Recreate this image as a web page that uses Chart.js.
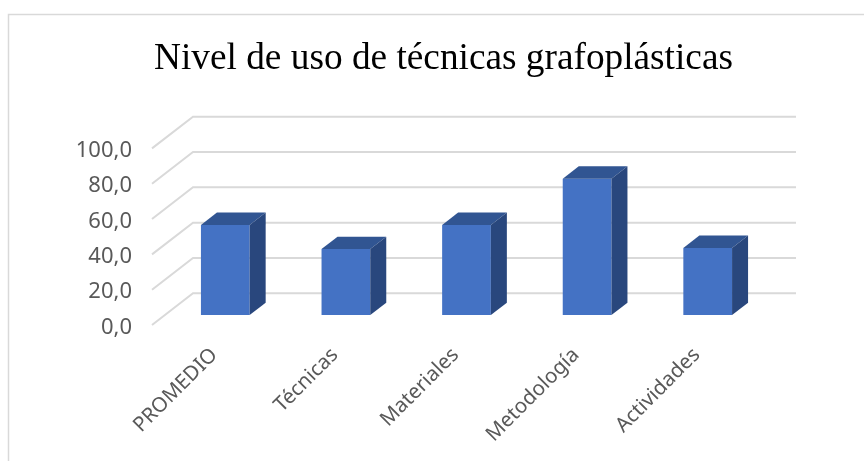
<!DOCTYPE html>
<html>
<head>
<meta charset="utf-8">
<title>Nivel de uso de técnicas grafoplásticas</title>
<script src="https://cdn.jsdelivr.net/npm/chart.js@4/dist/chart.umd.min.js"></script>
<style>
  html, body { margin: 0; padding: 0; background: #fff; }
  canvas { display: block; }
</style>
</head>
<body>
<canvas id="usageChart" width="864" height="461"></canvas>
<script>
const chartTitle = 'Nivel de uso de técnicas grafoplásticas';
const categories = ['PROMEDIO', 'Técnicas', 'Materiales', 'Metodología', 'Actividades'];
const usageValues = [51, 37.4, 51, 77.2, 38];

// Floor depth of the fake 3D box, and how far into it the bars stand
const floorDepth = { x: 41, y: 31.7 };
const barShift = { x: 13, y: 10 };
const barDepth = { x: 16, y: 12.3 };

const frontColor = '#4472C4';
const topColor = '#315592';
const sideColor = '#29477D';
const gridColor = '#D9D9D9';
const labelColor = '#595959';

function fillPolygon(ctx, color, points) {
    ctx.fillStyle = color;
    ctx.beginPath();
    points.forEach(([x, y], i) => (i ? ctx.lineTo(x, y) : ctx.moveTo(x, y)));
    ctx.closePath();
    ctx.fill();
}

// Outer frame of the chart, it runs off the right and bottom of the page
const framePlugin = {
    id: 'frame',
    beforeDraw(chart) {
        const { ctx, width, height } = chart;
        ctx.save();
        ctx.strokeStyle = gridColor;
        ctx.lineWidth = 1.5;
        ctx.beginPath();
        ctx.moveTo(8.5, height);
        ctx.lineTo(8.5, 14.5);
        ctx.lineTo(width, 14.5);
        ctx.stroke();
        ctx.restore();
    }
};

// Gridlines: a slanted stretch over the floor, then straight across the back wall
const depthGridPlugin = {
    id: 'depthGrid',
    beforeDatasetsDraw(chart) {
        const { ctx, chartArea, scales } = chart;
        ctx.save();
        ctx.strokeStyle = gridColor;
        ctx.lineWidth = 2;
        scales.y.ticks.forEach((tick, i) => {
            const y = scales.y.getPixelForTick(i);
            ctx.beginPath();
            ctx.moveTo(chartArea.left, y);
            ctx.lineTo(chartArea.left + floorDepth.x, y - floorDepth.y);
            ctx.lineTo(chartArea.right + floorDepth.x, y - floorDepth.y);
            ctx.stroke();
        });
        ctx.restore();
    }
};

// Moves the bars onto the floor and adds their top and side faces
const boxBarsPlugin = {
    id: 'boxBars',
    beforeDatasetsDraw(chart) {
        chart.ctx.save();
        chart.ctx.translate(barShift.x, -barShift.y);
    },
    afterDatasetsDraw(chart) {
        const ctx = chart.ctx;
        chart.getDatasetMeta(0).data.forEach(bar => {
            const left = bar.x - bar.width / 2;
            const right = bar.x + bar.width / 2;
            fillPolygon(ctx, topColor, [
                [left, bar.y],
                [left + barDepth.x, bar.y - barDepth.y],
                [right + barDepth.x, bar.y - barDepth.y],
                [right, bar.y]
            ]);
            fillPolygon(ctx, sideColor, [
                [right, bar.y],
                [right + barDepth.x, bar.y - barDepth.y],
                [right + barDepth.x, bar.base - barDepth.y],
                [right, bar.base]
            ]);
        });
        ctx.restore();
    }
};

new Chart(document.getElementById('usageChart'), {
    type: 'bar',
    data: {
        labels: categories,
        datasets: [{
            data: usageValues,
            backgroundColor: frontColor,
            barPercentage: 0.404,
            categoryPercentage: 1,
            clip: false
        }]
    },
    options: {
        responsive: false,
        animation: false,
        layout: { padding: { left: 60, right: 37, top: 0, bottom: 0 } },
        plugins: {
            legend: { display: false },
            tooltip: { enabled: false },
            title: {
                display: true,
                text: chartTitle,
                color: '#000',
                font: { family: '"Liberation Serif"', size: 37.3, weight: 'normal', lineHeight: 1.2 },
                padding: { top: 37, bottom: 66.6 }
            }
        },
        scales: {
            x: {
                grid: { display: false, drawTicks: false },
                border: { display: false },
                afterFit(scale) { scale.height = 136; },
                ticks: {
                    color: labelColor,
                    font: { family: '"Noto Sans"', size: 20.5 },
                    minRotation: 45,
                    maxRotation: 45,
                    autoSkip: false,
                    labelOffset: 2,
                    padding: 18
                }
            },
            y: {
                min: 0,
                max: 100,
                grid: { display: false, drawTicks: false },
                border: { display: false },
                afterFit(scale) { scale.width = 92; },
                ticks: {
                    stepSize: 20,
                    color: labelColor,
                    font: { family: '"Noto Sans"', size: 22 },
                    padding: 20,
                    labelOffset: 2.5,
                    callback: value => value.toFixed(1).replace('.', ',')
                }
            },
            // empty axis, only keeps the plot clear of the right side so the title stays centred
            spacer: {
                position: 'right',
                grid: { display: false, drawTicks: false },
                border: { display: false },
                ticks: { display: false },
                afterFit(scale) { scale.width = 72; }
            }
        }
    },
    plugins: [framePlugin, depthGridPlugin, boxBarsPlugin]
});
</script>
</body>
</html>
